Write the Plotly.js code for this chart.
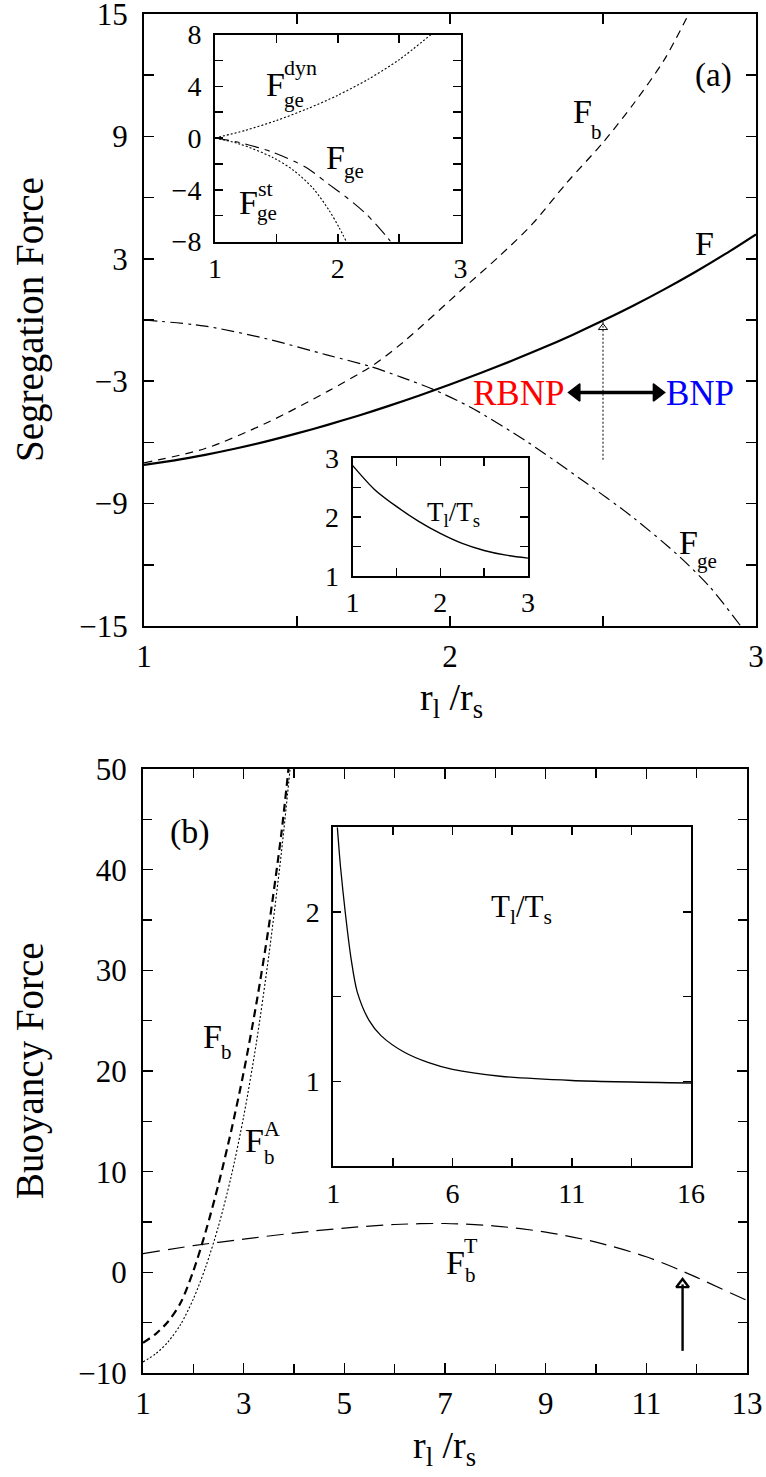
<!DOCTYPE html>
<html>
<head>
<meta charset="utf-8">
<script src="https://cdn.plot.ly/plotly-3.0.1.min.js"></script>
<style>html,body{margin:0;padding:0;background:#fff}#plot{width:766px;height:1477px}</style>
</head>
<body>
<div id="plot"></div>
<script>
// ---------- Panel (a): segregation force vs r_l/r_s ----------
const rF   = [1.0, 1.1, 1.2, 1.3, 1.4, 1.5, 1.6, 1.7, 1.8, 1.9, 2.0, 2.1, 2.2, 2.3, 2.4, 2.5, 2.6, 2.7, 2.8, 2.9, 3.0];
const F    = [-7.1, -6.88, -6.61, -6.3, -5.95, -5.56, -5.14, -4.69, -4.21, -3.7, -3.16, -2.6, -2.01, -1.39, -0.73, -0.03, 0.71, 1.5, 2.34, 3.24, 4.2];
const rFb  = [1.0, 1.2, 1.4, 1.6, 1.75, 1.85, 2.05, 2.16, 2.27, 2.38, 2.5, 2.6, 2.7, 2.78];
const Fb   = [-7.0, -6.3, -5.05, -3.5, -2.2, -1.05, 1.64, 3.11, 4.72, 6.7, 8.7, 10.6, 12.75, 15.0];
const rFge = [1.0, 1.2, 1.4, 1.6, 1.74, 1.84, 1.945, 2.07, 2.25, 2.43, 2.6, 2.75, 2.85, 2.95];
const Fge  = [0, -0.3, -0.92, -1.72, -2.28, -2.8, -3.4, -4.3, -5.95, -7.83, -9.7, -11.6, -13.1, -15.0];

// inset (a1): geometric-exclusion force components
const rDyn   = [1.0, 1.25, 1.5, 1.75, 2.0, 2.25, 2.5, 2.76];
const Fdyn   = [0, 0.6, 1.35, 2.25, 3.3, 4.55, 6.05, 8.0];
const rSt    = [1.0, 1.2, 1.47, 1.64, 1.8, 1.93, 2.01, 2.07];
const Fst    = [0, -0.46, -1.5, -2.5, -3.9, -5.6, -6.9, -8.0];
const rGeIn  = [1.0, 1.2, 1.47, 1.74, 1.905, 2.07, 2.23, 2.39, 2.43];
const FgeIn  = [0, -0.35, -1.1, -2.26, -3.42, -4.58, -5.86, -7.53, -8.0];

// inset (a2): temperature ratio
const rTa    = [1.0, 1.25, 1.5, 1.75, 2.0, 2.25, 2.5, 2.75, 3.0];
const TratA  = [2.88, 2.47, 2.18, 1.93, 1.72, 1.55, 1.43, 1.35, 1.3];

// arrows in panel (a)
const arrowA_x = 2.5, arrowA_y0 = -6.85, arrowA_y1 = -0.07;
const dblArrow_x0 = 2.392, dblArrow_x1 = 2.697, dblArrow_y = -3.55;

// ---------- Panel (b): buoyancy force vs r_l/r_s ----------
const rBb  = [1.0, 1.25, 1.5, 1.75, 2.0, 2.25, 2.5, 2.75, 3.0, 3.25, 3.5, 3.75, 3.89];
const FbB  = [-7.0, -6.13, -4.88, -3.0, 0.13, 4.13, 8.75, 14.0, 19.88, 26.63, 34.38, 43.63, 50.0];
const rBA  = [1.0, 1.25, 1.5, 1.75, 2.0, 2.25, 2.5, 2.75, 3.0, 3.25, 3.5, 3.75, 3.92];
const FbA  = [-8.9, -8.1, -6.9, -5.15, -2.65, 0.6, 4.6, 9.48, 15.48, 22.73, 31.48, 41.73, 49.9];
const rBT  = [1, 2, 3, 4, 5, 6, 7, 8, 9, 10, 11, 11.7, 12, 13];
const FbT  = [1.85, 2.65, 3.3, 3.9, 4.4, 4.75, 4.85, 4.6, 4.0, 3.0, 1.55, 0.15, -0.5, -2.8];

// inset (b): temperature ratio
const rTb    = [1.17, 1.3, 1.5, 1.75, 2.0, 2.5, 3.0, 4.0, 5.0, 6.0, 8.0, 11.0, 16.0];
const TratB  = [2.5, 2.27, 2.0, 1.72, 1.53, 1.36, 1.27, 1.17, 1.11, 1.07, 1.03, 1.005, 0.99];

const arrowB_x = 11.72, arrowB_y0 = -7.8, arrowB_y1 = -1.2;

// ---------- layout helpers ----------
const W = 766, H = 1477;
const FONT = '"Liberation Serif", "Times New Roman", serif';
const dx = (a, b) => [a / W, b / W];
const dy = (top, bottom) => [1 - bottom / H, 1 - top / H];

function ax(opts) {
  return Object.assign({
    showline: true, linecolor: '#000', linewidth: 2, mirror: 'allticks',
    ticks: 'inside', ticklen: 10, tickwidth: 1.5, tickcolor: '#000',
    showgrid: false, zeroline: false, fixedrange: true,
    tickfont: {family: FONT, size: 31, color: '#000'},
    ticklabeloverflow: 'allow'
  }, opts);
}
const minorT = (d, t0, len) => ({dtick: d, tick0: t0, ticks: 'inside', ticklen: len, tickwidth: 1.5, tickcolor: '#000'});
const insetFont = {family: FONT, size: 28, color: '#000'};

const solid = (w) => ({color: '#000', width: w, shape: 'spline', smoothing: 0.8});

const traces = [
  // panel a
  {x: rF, y: F, xaxis: 'x', yaxis: 'y', mode: 'lines', line: solid(2.2)},
  {x: rFb, y: Fb, xaxis: 'x', yaxis: 'y', mode: 'lines', line: Object.assign(solid(1.2), {dash: '8px,6px'})},
  {x: rFge, y: Fge, xaxis: 'x', yaxis: 'y', mode: 'lines', line: Object.assign(solid(1.2), {dash: '13px,5px,3px,5px'})},
  // dotted vertical arrow
  {x: [arrowA_x, arrowA_x], y: [arrowA_y0, arrowA_y1], xaxis: 'x', yaxis: 'y', mode: 'lines', line: {color: '#000', width: 1, dash: '2px,2px'}},
  {x: [arrowA_x], y: [arrowA_y1 - 0.3], xaxis: 'x', yaxis: 'y', mode: 'markers',
   marker: {symbol: 'triangle-up-open', size: 8, color: '#000', line: {width: 1, color: '#000'}}},
  // double arrow RBNP <-> BNP
  {x: [dblArrow_x0 + 0.02, dblArrow_x1 - 0.02], y: [dblArrow_y, dblArrow_y], xaxis: 'x', yaxis: 'y', mode: 'lines',
   line: {color: '#000', width: 3.5}},
  {x: [dblArrow_x0 + 0.02, dblArrow_x1 - 0.02], y: [dblArrow_y, dblArrow_y], xaxis: 'x', yaxis: 'y', mode: 'markers',
   marker: {symbol: ['triangle-left', 'triangle-right'], size: 15, color: '#000', line: {width: 1.5, color: '#000'}}},
  // inset a1
  {x: rDyn, y: Fdyn, xaxis: 'x2', yaxis: 'y2', mode: 'lines', line: Object.assign(solid(1.1), {dash: '2px,2px'})},
  {x: rSt, y: Fst, xaxis: 'x2', yaxis: 'y2', mode: 'lines', line: Object.assign(solid(1.1), {dash: '2px,2px'})},
  {x: rGeIn, y: FgeIn, xaxis: 'x2', yaxis: 'y2', mode: 'lines', line: Object.assign(solid(1.1), {dash: '14px,6px,5px,6px'})},
  // inset a2
  {x: rTa, y: TratA, xaxis: 'x3', yaxis: 'y3', mode: 'lines', line: solid(1.4)},
  // panel b
  {x: rBb, y: FbB, xaxis: 'x4', yaxis: 'y4', mode: 'lines', line: Object.assign(solid(2.2), {dash: '8px,5px'})},
  {x: rBA, y: FbA, xaxis: 'x4', yaxis: 'y4', mode: 'lines', line: Object.assign(solid(1.1), {dash: '2px,2px'})},
  {x: rBT, y: FbT, xaxis: 'x4', yaxis: 'y4', mode: 'lines', line: Object.assign(solid(1.2), {dash: '17px,8px'})},
  {x: [arrowB_x, arrowB_x], y: [arrowB_y0, arrowB_y1], xaxis: 'x4', yaxis: 'y4', mode: 'lines', line: {color: '#000', width: 2.4}},
  {x: [arrowB_x], y: [arrowB_y1], xaxis: 'x4', yaxis: 'y4', mode: 'markers',
   marker: {symbol: 'triangle-up-open', size: 11, color: '#000', line: {width: 2.4, color: '#000'}}},
  // inset b
  {x: rTb, y: TratB, xaxis: 'x5', yaxis: 'y5', mode: 'lines', line: solid(1.3)}
];

function txt(text, x, y, xref, yref, size, extra) {
  return Object.assign({
    text: text, x: x, y: y, xref: xref, yref: yref, showarrow: false,
    xanchor: 'center', yanchor: 'middle',
    font: {family: FONT, size: size, color: '#000'}
  }, extra || {});
}

const BIG = 34, SUB = 21, SUP = 22;
const annotations = [
  // panel a labels
  txt('F', 2.433, 10.2, 'x', 'y', BIG), txt('b', 2.48, 9.2, 'x', 'y', SUB),
  txt('F', 2.833, 3.74, 'x', 'y', BIG),
  txt('F', 2.778, -10.93, 'x', 'y', BIG), txt('ge', 2.84, -11.8, 'x', 'y', SUB),
  txt('(a)', 2.86, 12.0, 'x', 'y', 33),
  txt('RBNP', 2.223, -3.58, 'x', 'y', 35, {font: {family: FONT, size: 35, color: '#ff0000'}}),
  txt('BNP', 2.817, -3.58, 'x', 'y', 35, {font: {family: FONT, size: 35, color: '#0000ff'}}),
  // inset a1 labels
  txt('F', 1.49, 4.1, 'x2', 'y2', BIG), txt('ge', 1.64, 2.9, 'x2', 'y2', SUB), txt('dyn', 1.70, 5.45, 'x2', 'y2', SUP),
  txt('F', 1.98, -1.5, 'x2', 'y2', BIG), txt('ge', 2.13, -2.52, 'x2', 'y2', SUB),
  txt('F', 1.276, -4.96, 'x2', 'y2', BIG), txt('ge', 1.424, -5.81, 'x2', 'y2', SUB), txt('st', 1.41, -3.93, 'x2', 'y2', SUP),
  // inset a2 label
  txt('T<sub>l</sub>/T<sub>s</sub>', 2.15, 2.05, 'x3', 'y3', 27),
  // panel b labels
  txt('(b)', 1.93, 43.7, 'x4', 'y4', 34),
  txt('F', 2.38, 23.4, 'x4', 'y4', BIG), txt('b', 2.66, 21.9, 'x4', 'y4', SUB),
  txt('F', 3.21, 13.1, 'x4', 'y4', BIG), txt('A', 3.57, 14.3, 'x4', 'y4', SUP), txt('b', 3.52, 11.5, 'x4', 'y4', SUB),
  txt('F', 7.2, 1.0, 'x4', 'y4', BIG), txt('T', 7.51, 2.7, 'x4', 'y4', SUP), txt('b', 7.5, -0.27, 'x4', 'y4', SUB),
  txt('T<sub>l</sub>/T<sub>s</sub>', 8.9, 2.02, 'x5', 'y5', 31),
  // axis titles
  txt('Segregation Force', 30 / W, 1 - 320 / H, 'paper', 'paper', 39, {textangle: -90}),
  txt('r<sub>l</sub> /r<sub>s</sub>', 451 / W, 1 - 700 / H, 'paper', 'paper', 38),
  txt('Buoyancy Force', 30 / W, 1 - 1071 / H, 'paper', 'paper', 39, {textangle: -90}),
  txt('r<sub>l</sub> /r<sub>s</sub>', 445 / W, 1 - 1448 / H, 'paper', 'paper', 38)
];

const layout = {
  width: W, height: H, margin: {l: 0, r: 0, t: 0, b: 0},
  paper_bgcolor: '#fff', plot_bgcolor: 'rgba(0,0,0,0)', showlegend: false,
  font: {family: FONT, color: '#000'},
  // panel a
  xaxis: ax({domain: dx(144, 756), anchor: 'y', range: [1, 3], tick0: 1, dtick: 1, ticklabelstandoff: 2,
             minor: minorT(0.5, 1, 10)}),
  yaxis: ax({domain: dy(14, 626), anchor: 'x', range: [-15, 15], tick0: -15, dtick: 6, ticklabelstandoff: 8,
             minor: minorT(3, 0, 10)}),
  // inset a1
  xaxis2: ax({domain: dx(215, 460.5), anchor: 'y2', range: [1, 3], tick0: 1, dtick: 1, ticklen: 8,
              tickfont: insetFont, ticklabelstandoff: 1, minor: minorT(0.5, 1, 8)}),
  yaxis2: ax({domain: dy(34.5, 241.5), anchor: 'x2', range: [-8, 8], tick0: -8, dtick: 4, ticklen: 8,
              tickfont: insetFont, ticklabelstandoff: 6, minor: minorT(2, 0, 8)}),
  // inset a2
  xaxis3: ax({domain: dx(352.5, 528), anchor: 'y3', range: [1, 3], tick0: 1, dtick: 1, ticklen: 8,
              tickfont: insetFont, ticklabelstandoff: 1, minor: minorT(0.5, 1, 8)}),
  yaxis3: ax({domain: dy(458.3, 575.7), anchor: 'x3', range: [1, 3], tick0: 1, dtick: 1, ticklen: 8,
              tickfont: insetFont, ticklabelstandoff: 6, minor: minorT(0.5, 1, 8)}),
  // panel b
  xaxis4: ax({domain: dx(143, 747), anchor: 'y4', range: [1, 13], tick0: 1, dtick: 2, ticklabelstandoff: 2,
              minor: minorT(1, 1, 9)}),
  yaxis4: ax({domain: dy(769, 1373), anchor: 'x4', range: [-10, 50], tick0: -10, dtick: 10, ticklabelstandoff: 8,
              minor: minorT(5, 0, 9)}),
  // inset b
  xaxis5: ax({domain: dx(333.3, 691), anchor: 'y5', range: [1, 16], tick0: 1, dtick: 5, ticklen: 8,
              tickfont: insetFont, ticklabelstandoff: 1, minor: minorT(2.5, 1, 8)}),
  yaxis5: ax({domain: dy(827.3, 1166), anchor: 'x5', range: [0.5, 2.5], tick0: 1, dtick: 1, ticklen: 8,
              tickfont: insetFont, ticklabelstandoff: 6, minor: minorT(0.5, 0.5, 8)}),
  annotations: annotations
};

Plotly.newPlot('plot', traces, layout, {staticPlot: true, displayModeBar: false});
</script>
</body>
</html>
